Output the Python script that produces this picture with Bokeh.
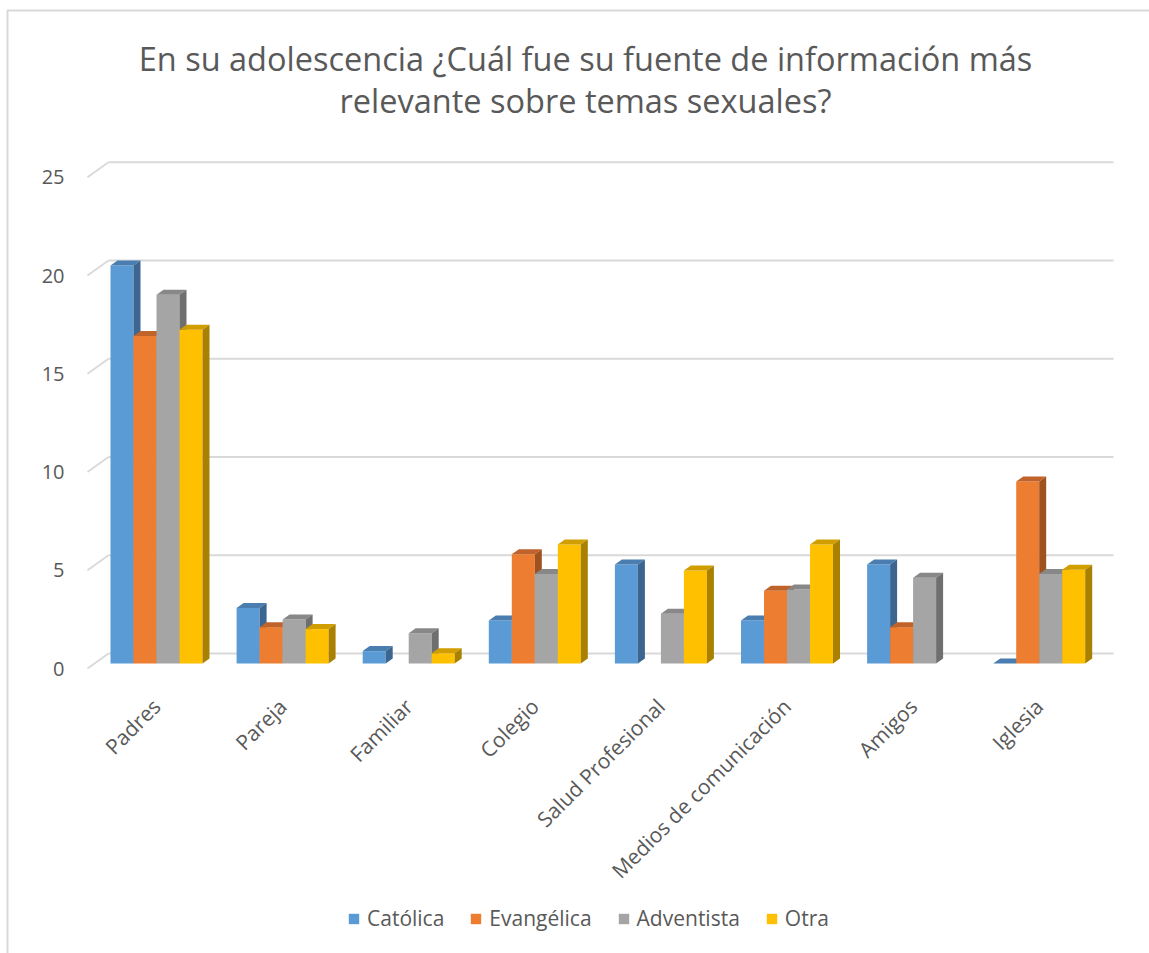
import math
from bokeh.plotting import figure
from bokeh.models import Range1d, Legend, LegendItem
from bokeh.core.properties import value
from bokeh.embed import file_html
from bokeh.resources import INLINE

# ---------------- data ----------------
categories = ["Padres", "Pareja", "Familiar", "Colegio", "Salud Profesional",
              "Medios de comunicación", "Amigos", "Iglesia"]
series_names = ["Católica", "Evangélica", "Adventista", "Otra"]
catolica = [20.25, 2.83, 0.63, 2.19, 5.04, 2.19, 5.04, 0.0]
evangelica = [16.67, 1.85, None, 5.56, None, 3.70, 1.85, 9.26]
adventista = [18.76, 2.24, 1.54, 4.56, 2.53, 3.77, 4.36, 4.56]
otra = [16.98, 1.75, 0.52, 6.06, 4.73, 6.06, None, 4.77]
y_ticks = [0, 5, 10, 15, 20, 25]
title_lines = ["En su adolescencia ¿Cuál fue su fuente de información más",
               "relevante sobre temas sexuales?"]

front_colors = ["#5B9BD5", "#ED7D31", "#A5A5A5", "#FFC000"]
top_colors = ["#4A7DB0", "#C0632A", "#888888", "#D19E00"]
side_colors = ["#3C6690", "#A0521E", "#6F6F6F", "#A98000"]

FONT = value("Open Sans")
TXT = "#595959"
GRID = "#D9D9D9"

# ---------------- layout helpers (page pixels -> data) ----------------
W, H = 1149, 953
PX_X0, PX_UNIT_X = 156.0, 126.1   # page x of category 0, px per category
PX_Y0, PX_UNIT_Y = 663.0, 19.65   # page y of value 0, px per value unit


def X(px):
    return (px - PX_X0) / PX_UNIT_X


def Y(py):
    return (PX_Y0 - py) / PX_UNIT_Y


BW = 23 / PX_UNIT_X      # bar width
DX = 7 / PX_UNIT_X       # depth offset x
DY = 5 / PX_UNIT_Y       # depth offset y
BACK_DY = 10 / PX_UNIT_Y
FRONT_DY = -5 / PX_UNIT_Y

p = figure(width=W, height=H,
           x_range=Range1d(X(0), X(W)), y_range=Range1d(Y(H), Y(0)),
           output_backend="svg", toolbar_location=None,
           x_axis_location=None, y_axis_location=None,
           min_border=0, min_border_left=0, min_border_right=0,
           min_border_top=0, min_border_bottom=0)
p.outline_line_color = None
p.xgrid.visible = False
p.ygrid.visible = False
p.background_fill_color = "white"
p.border_fill_color = "white"

# chart border (left and top visible)
p.line(x=[X(7), X(7), X(W)], y=[Y(H), Y(10), Y(10)],
       line_color=GRID, line_width=2)

# title
p.text(x=[X(585), X(585)], y=[Y(58), Y(100)], text=title_lines,
       text_align="center", text_baseline="middle", text_font=FONT,
       text_font_size="32.5px", text_color=TXT)

# back-wall gridlines and perspective connectors
n = len(y_ticks)
p.segment(x0=[X(108)] * n, y0=[v + BACK_DY for v in y_ticks],
          x1=[X(1113)] * n, y1=[v + BACK_DY for v in y_ticks],
          line_color=GRID, line_width=1.8)
p.segment(x0=[X(87)] * n, y0=[v + FRONT_DY for v in y_ticks],
          x1=[X(108)] * n, y1=[v + BACK_DY for v in y_ticks],
          line_color=GRID, line_width=1.8)

# y tick labels (front plane)
p.text(x=[X(64)] * n, y=[v + FRONT_DY for v in y_ticks], text=[str(v) for v in y_ticks],
       text_align="right", text_baseline="middle", text_font=FONT,
       text_font_size="20px", text_color=TXT)

# category labels rotated 45 degrees
p.text(x=list(range(len(categories))), y=[Y(702)] * len(categories), text=categories,
       angle=math.pi / 4, text_align="right", text_baseline="middle",
       text_font=FONT, text_font_size="21px", text_color=TXT)

# bars with pseudo-3D faces
all_series = [catolica, evangelica, adventista, otra]
legend_items = []
for k, vals in enumerate(all_series):
    xs, tops, top_xs, top_ys, side_xs, side_ys = [], [], [], [], [], []
    for i, v in enumerate(vals):
        if v is None:
            continue
        x0 = i + (k - 2) * BW
        x1 = x0 + BW
        xs.append((x0 + x1) / 2)
        tops.append(v)
        top_xs.append([x0, x1, x1 + DX, x0 + DX])
        top_ys.append([v, v, v + DY, v + DY])
        side_xs.append([x1, x1, x1 + DX, x1 + DX])
        side_ys.append([0, v, v + DY, DY])
    r = p.vbar(x=xs, top=tops, bottom=0, width=BW, fill_color=front_colors[k], line_color=None)
    p.patches(xs=top_xs, ys=top_ys, fill_color=top_colors[k], line_color=None)
    p.patches(xs=side_xs, ys=side_ys, fill_color=side_colors[k], line_color=None)
    legend_items.append(LegendItem(label=series_names[k], renderers=[r]))

legend = Legend(items=legend_items, orientation="horizontal",
                location=(347, 21),
                border_line_color=None, background_fill_alpha=0,
                label_text_font="Open Sans", label_text_font_size="21px", label_text_color=TXT,
                glyph_width=13, glyph_height=13, label_standoff=7, spacing=25,
                padding=0, margin=0, label_height=20)
p.add_layout(legend, "center")

open("out.html", "w").write(file_html(p, INLINE))
